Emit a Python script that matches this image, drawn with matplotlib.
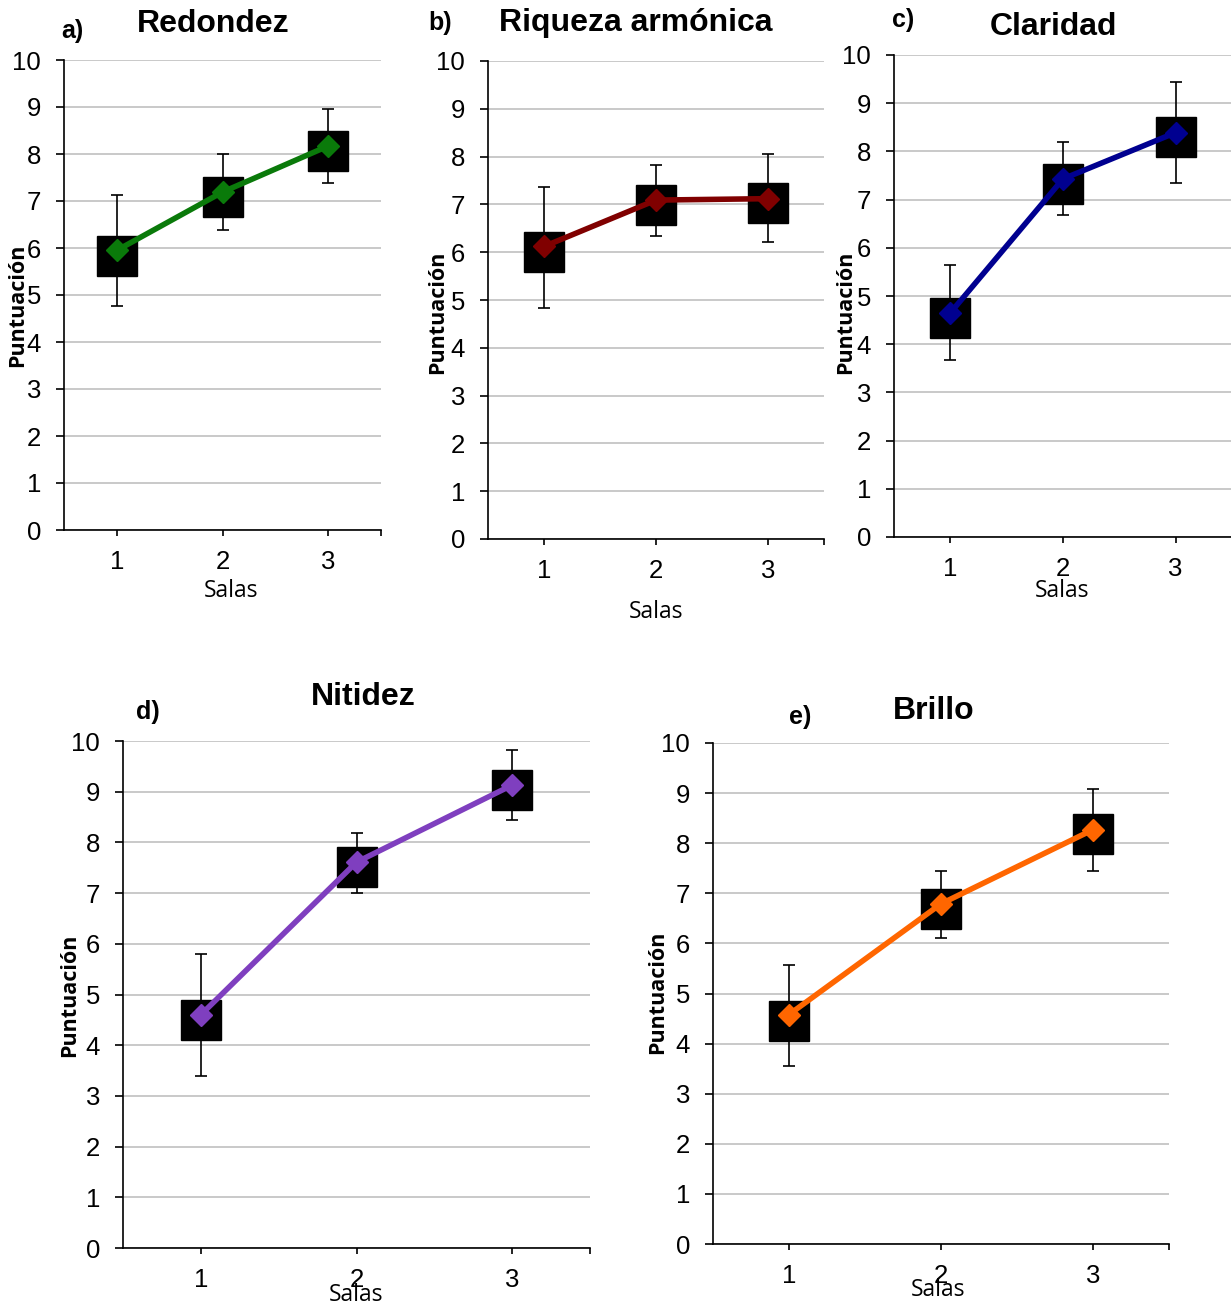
import numpy as np
import matplotlib
matplotlib.use("Agg")
import matplotlib.pyplot as plt

W, H = 1231, 1304

salas = [1, 2, 3]

# medias (rombos), extremos de las barras de error y cuadros negros
titulos = ["Redondez", "Riqueza armónica", "Claridad", "Nitidez", "Brillo"]
letras = ["a)", "b)", "c)", "d)", "e)"]
colores = ["#0a7a0a", "#800000", "#000090", "#7f3fbf", "#ff6600"]

media_a = [5.95, 7.19, 8.17]
sup_a = [7.12, 8.00, 8.96]
inf_a = [4.76, 6.39, 7.39]
cuad_a = [5.84, 7.08, 8.06]

media_b = [6.12, 7.09, 7.12]
sup_b = [7.36, 7.82, 8.05]
inf_b = [4.83, 6.33, 6.22]
cuad_b = [6.00, 6.98, 7.02]

media_c = [4.65, 7.43, 8.39]
sup_c = [5.65, 8.20, 9.45]
inf_c = [3.68, 6.68, 7.35]
cuad_c = [4.55, 7.33, 8.30]

media_d = [4.60, 7.61, 9.13]
sup_d = [5.80, 8.19, 9.83]
inf_d = [3.39, 7.01, 8.45]
cuad_d = [4.50, 7.52, 9.04]

media_e = [4.58, 6.79, 8.27]
sup_e = [5.56, 7.45, 9.08]
inf_e = [3.56, 6.11, 7.45]
cuad_e = [4.46, 6.69, 8.18]

medias = [media_a, media_b, media_c, media_d, media_e]
sups = [sup_a, sup_b, sup_c, sup_d, sup_e]
infs = [inf_a, inf_b, inf_c, inf_d, inf_e]
cuads = [cuad_a, cuad_b, cuad_c, cuad_d, cuad_e]

# layout in pixels: left, right, top(y=10), bottom(y=0)
cajas = [(64, 381, 60, 530), (488, 824, 61, 539), (894, 1232, 55, 537),
         (123, 590, 741, 1248), (713, 1169, 743, 1244)]
pos_titulo = [(213, 24), (636, 23), (1053, 27), (363, 697), (934, 711)]
pos_letra = [(72, 31), (440, 23), (903, 20), (148, 712), (800, 717)]
pos_ylab = [(18, 305), (438, 312), (846, 312), (70, 995), (658, 992)]
pos_xlab = [(231, 591), (656, 612), (1062, 591), (356, 1295), (938, 1290)]

fig = plt.figure(figsize=(W / 100, H / 100), dpi=100)


def fx(x):
    return x / W


def fy(y):
    return 1 - y / H


for i in range(5):
    L, R, T, B = cajas[i]
    ax = fig.add_axes([fx(L), fy(B), (R - L) / W, (B - T) / H])
    m = np.array(medias[i])
    s = np.array(sups[i])
    b = np.array(infs[i])

    ax.plot(salas, cuads[i], linestyle="none", marker="s", markersize=28.5,
            color="black", zorder=2)
    ax.errorbar(salas, m, yerr=[m - b, s - m], fmt="none", ecolor="black",
                elinewidth=1.2, capsize=4.5, capthick=1.2, zorder=3)
    ax.plot(salas, m, color=colores[i], lw=4, zorder=4)
    ax.plot(salas, m, linestyle="none", marker="D", markersize=11,
            color=colores[i], zorder=5)

    ax.set_xlim(0.5, 3.5)
    ax.set_ylim(0, 10)
    ax.set_yticks(range(0, 11))
    ax.set_xticks([1, 2, 3, 3.5])
    ax.set_xticklabels(["1", "2", "3", ""])
    ax.yaxis.grid(True, color="#c0c0c0", lw=1.2)
    ax.set_axisbelow(True)
    for sp in ["top", "right"]:
        ax.spines[sp].set_visible(False)
    for sp in ["left", "bottom"]:
        ax.spines[sp].set_linewidth(1.2)
        ax.spines[sp].set_color("black")
    ax.tick_params(axis="y", direction="out", length=5.5, width=1.2, pad=11,
                   labelsize=18.5)
    ax.tick_params(axis="x", direction="out", length=4.5, width=1.2, pad=10,
                   labelsize=18.5)
    for lab in ax.get_xticklabels() + ax.get_yticklabels():
        lab.set_fontfamily("Liberation Sans")

    fig.text(fx(pos_titulo[i][0]), fy(pos_titulo[i][1]), titulos[i],
             ha="center", va="center", fontsize=23, fontweight="bold",
             family="Liberation Sans")
    fig.text(fx(pos_letra[i][0]), fy(pos_letra[i][1]), letras[i],
             ha="center", va="center", fontsize=18, fontweight="bold",
             family="Liberation Sans")
    fig.text(fx(pos_ylab[i][0]), fy(pos_ylab[i][1]), "Puntuación",
             ha="center", va="center", rotation=90, fontsize=15.5,
             fontweight="bold", family="Open Sans")
    fig.text(fx(pos_xlab[i][0]), fy(pos_xlab[i][1]), "Salas",
             ha="center", va="center", fontsize=16.5, family="Open Sans")

fig.savefig("out.png", dpi=100)
